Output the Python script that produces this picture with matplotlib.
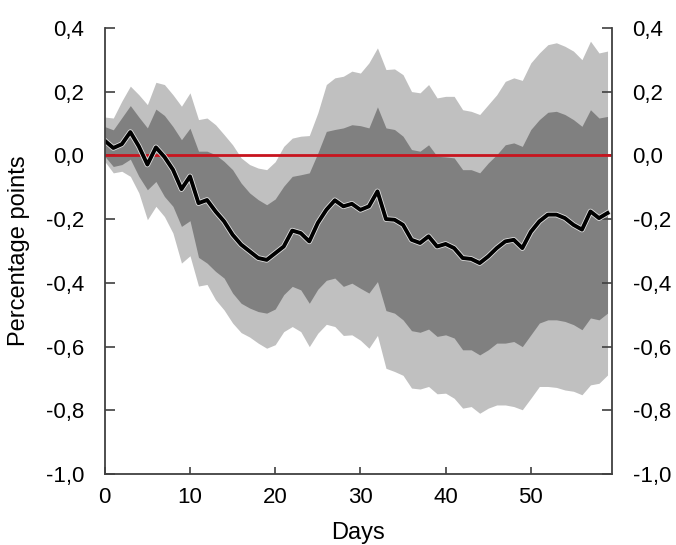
import numpy as np
import matplotlib
matplotlib.use("Agg")
import matplotlib.pyplot as plt
import matplotlib.patheffects as pe
from matplotlib.ticker import FuncFormatter

plt.rcParams['font.family'] = ['Liberation Sans', 'DejaVu Sans']

# impulse response over 60 days, point estimate plus two bands
days = list(range(60))

response = [0.046, 0.023, 0.035, 0.073, 0.028, -0.029, 0.025, -0.005, -0.045, -0.106,
            -0.066, -0.150, -0.140, -0.176, -0.207, -0.249, -0.280, -0.301, -0.322, -0.328,
            -0.307, -0.286, -0.236, -0.244, -0.270, -0.212, -0.171, -0.141, -0.160, -0.152,
            -0.171, -0.160, -0.113, -0.200, -0.202, -0.218, -0.265, -0.275, -0.254, -0.286,
            -0.278, -0.291, -0.322, -0.325, -0.338, -0.317, -0.291, -0.270, -0.265, -0.291,
            -0.240, -0.207, -0.186, -0.186, -0.197, -0.218, -0.233, -0.176, -0.197, -0.181]

inner_hi = [0.090, 0.080, 0.118, 0.156, 0.120, 0.086, 0.145, 0.125, 0.090, 0.049,
            0.085, 0.013, 0.013, 0.002, -0.019, -0.045, -0.087, -0.118, -0.139, -0.155,
            -0.137, -0.097, -0.066, -0.061, -0.055, 0.007, 0.075, 0.081, 0.086, 0.096,
            0.093, 0.086, 0.152, 0.086, 0.081, 0.060, 0.018, 0.013, 0.033, -0.003,
            -0.005, -0.008, -0.045, -0.045, -0.055, -0.024, 0.002, 0.033, 0.039, 0.028,
            0.081, 0.112, 0.135, 0.138, 0.128, 0.112, 0.091, 0.143, 0.117, 0.122]

inner_lo = [-0.003, -0.035, -0.029, -0.012, -0.066, -0.108, -0.082, -0.129, -0.160, -0.223,
            -0.205, -0.320, -0.338, -0.364, -0.385, -0.432, -0.464, -0.479, -0.490, -0.495,
            -0.482, -0.437, -0.411, -0.422, -0.464, -0.420, -0.392, -0.385, -0.411, -0.401,
            -0.417, -0.432, -0.396, -0.487, -0.495, -0.516, -0.550, -0.555, -0.545, -0.568,
            -0.563, -0.573, -0.610, -0.610, -0.626, -0.610, -0.589, -0.589, -0.584, -0.600,
            -0.563, -0.526, -0.516, -0.516, -0.521, -0.531, -0.547, -0.510, -0.516, -0.495]

outer_hi = [0.120, 0.117, 0.170, 0.217, 0.190, 0.159, 0.229, 0.222, 0.190, 0.154,
            0.196, 0.112, 0.117, 0.096, 0.065, 0.033, -0.008, -0.029, -0.040, -0.045,
            -0.020, 0.028, 0.054, 0.060, 0.062, 0.133, 0.222, 0.243, 0.248, 0.264,
            0.258, 0.290, 0.337, 0.269, 0.271, 0.253, 0.200, 0.196, 0.222, 0.180,
            0.185, 0.185, 0.143, 0.138, 0.128, 0.159, 0.190, 0.232, 0.243, 0.235,
            0.290, 0.321, 0.347, 0.353, 0.342, 0.327, 0.300, 0.358, 0.321, 0.327]

outer_lo = [-0.019, -0.055, -0.050, -0.066, -0.118, -0.202, -0.160, -0.192, -0.244, -0.338,
            -0.315, -0.410, -0.405, -0.453, -0.485, -0.526, -0.556, -0.570, -0.589, -0.605,
            -0.594, -0.553, -0.537, -0.553, -0.600, -0.558, -0.530, -0.537, -0.565, -0.563,
            -0.580, -0.605, -0.565, -0.668, -0.678, -0.690, -0.730, -0.733, -0.725, -0.748,
            -0.746, -0.762, -0.793, -0.788, -0.809, -0.793, -0.783, -0.783, -0.788, -0.798,
            -0.762, -0.725, -0.725, -0.728, -0.736, -0.740, -0.751, -0.720, -0.715, -0.689]

y_ticks = [0.4, 0.2, 0.0, -0.2, -0.4, -0.6, -0.8, -1.0]
x_ticks = [0, 10, 20, 30, 40, 50]

fig = plt.figure(figsize=(6.76, 5.45), dpi=100)
ax = fig.add_axes([0.155, 0.130, 0.750, 0.819])

ax.fill_between(days, outer_lo, outer_hi, color='#c0c0c0', linewidth=0)
ax.fill_between(days, inner_lo, inner_hi, color='#808080', linewidth=0)
ax.axhline(0, color='#c8141e', linewidth=2.0)
ax.plot(days, response, color='black', linewidth=2.8,
        path_effects=[pe.Stroke(linewidth=4.0, foreground='#e0e0e0'), pe.Normal()])

ax.set_xlim(0, 59.5)
ax.set_ylim(-1.0, 0.4)
ax.set_xticks(x_ticks)
ax.set_yticks(y_ticks)

comma = FuncFormatter(lambda v, p: f'{v:.1f}'.replace('.', ',').replace('-0,0', '0,0'))
ax.yaxis.set_major_formatter(comma)

ax.spines['top'].set_visible(False)
for s in ['left', 'right', 'bottom']:
    ax.spines[s].set_color('#404040')
    ax.spines[s].set_linewidth(1.3)

ax.tick_params(axis='y', direction='in', length=7, width=1.2, color='#404040',
               right=True, labelright=True, labelsize=16, pad=15)
ax.tick_params(axis='x', direction='in', length=5, width=1.2, color='#404040',
               labelsize=16, pad=9)

ax.set_xlabel('Days', fontsize=17)
ax.set_ylabel('Percentage points', fontsize=17)
ax.xaxis.set_label_coords(0.5, -0.108)
ax.yaxis.set_label_coords(-0.148, 0.5)

fig.savefig('out.png', dpi=100)
